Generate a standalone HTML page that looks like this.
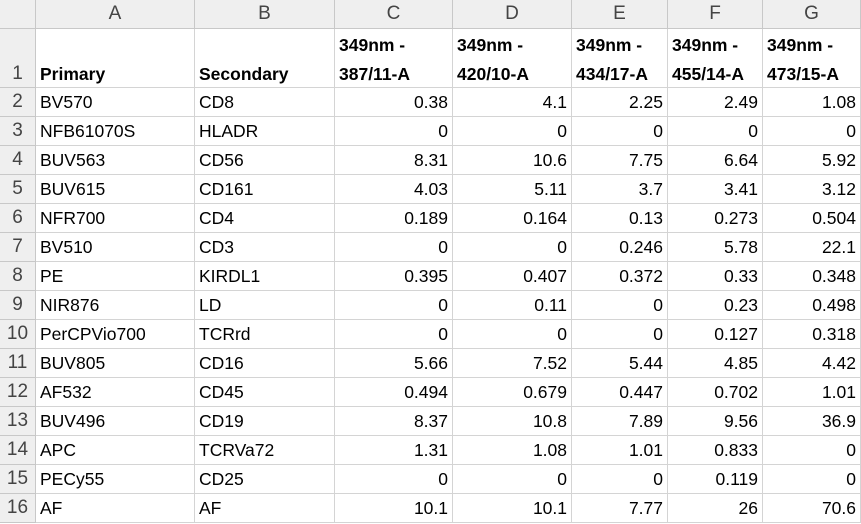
<!DOCTYPE html>
<html><head><meta charset="utf-8"><style>
body{margin:0;width:861px;height:524px;overflow:hidden;background:#fff;font-family:"Liberation Sans",sans-serif;}
.c{position:absolute;box-sizing:border-box;border-right:1px solid #d4d4d4;border-bottom:1px solid #d4d4d4;font-size:17.5px;color:#000;white-space:nowrap;overflow:hidden;padding:0 4px;}
.h{background:#efefef;color:#444;text-align:center;font-size:19px;border-color:#c8c8c8;}
.r{background:#efefef;color:#444;font-size:19px;text-align:center;border-color:#c8c8c8;}
.n{text-align:right;}
.b{font-weight:bold;}
</style></head><body>
<div id="g"></div>
<script>
const cols=["A","B","C","D","E","F","G"];
const colX=[36,195,335,453,572,668,763,861];
const headers=["Primary","Secondary","349nm -<br>387/11-A","349nm -<br>420/10-A","349nm -<br>434/17-A","349nm -<br>455/14-A","349nm -<br>473/15-A"];
const rows=[
["BV570","CD8","0.38","4.1","2.25","2.49","1.08"],
["NFB61070S","HLADR","0","0","0","0","0"],
["BUV563","CD56","8.31","10.6","7.75","6.64","5.92"],
["BUV615","CD161","4.03","5.11","3.7","3.41","3.12"],
["NFR700","CD4","0.189","0.164","0.13","0.273","0.504"],
["BV510","CD3","0","0","0.246","5.78","22.1"],
["PE","KIRDL1","0.395","0.407","0.372","0.33","0.348"],
["NIR876","LD","0","0.11","0","0.23","0.498"],
["PerCPVio700","TCRrd","0","0","0","0.127","0.318"],
["BUV805","CD16","5.66","7.52","5.44","4.85","4.42"],
["AF532","CD45","0.494","0.679","0.447","0.702","1.01"],
["BUV496","CD19","8.37","10.8","7.89","9.56","36.9"],
["APC","TCRVa72","1.31","1.08","1.01","0.833","0"],
["PECy55","CD25","0","0","0","0.119","0"],
["AF","AF","10.1","10.1","7.77","26","70.6"]];
const g=document.getElementById('g');
function cell(x,y,w,h,cls,html,lh){const d=document.createElement('div');d.className='c '+cls;d.style.left=x+'px';d.style.top=y+'px';d.style.width=w+'px';d.style.height=h+'px';d.style.lineHeight=(lh||h-1)+'px';d.innerHTML=html;g.appendChild(d);return d;}
let e=cell(0,0,36,29,'h','');


for(let i=0;i<7;i++){e=cell(colX[i],0,colX[i+1]-colX[i],29,'h',cols[i],28);

}
const H1=88,RH=29;
e=cell(0,29,36,H1-29,'r','1');e.style.lineHeight='normal';e.style.paddingTop='34px';


for(let i=0;i<7;i++){e=cell(colX[i],29,colX[i+1]-colX[i],H1-29,'b','<div style="position:absolute;bottom:-2px;line-height:29px">'+headers[i]+'</div>');

}
rows.forEach((r,ri)=>{const y=H1+ri*RH;
e=cell(0,y,36,RH,'r',String(ri+2));


r.forEach((v,ci)=>{e=cell(colX[ci],y,colX[ci+1]-colX[ci],RH,ci>1?'n':'',v);

});});
</script>
</body></html>
